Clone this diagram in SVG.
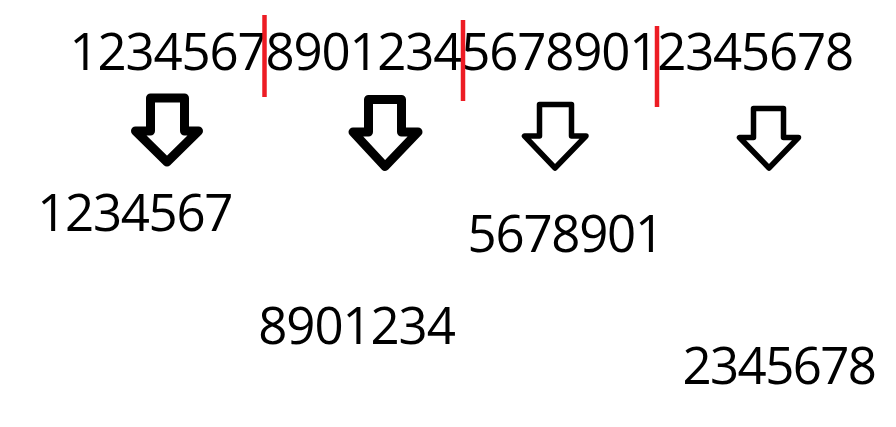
<svg xmlns="http://www.w3.org/2000/svg" width="896" height="427" viewBox="0 0 896 427">
<style>
.t{font-family:"Open Sans","Noto Sans","Liberation Sans",sans-serif;font-size:51px;fill:#000}
.cut{stroke:#ED1C24;stroke-width:4.5}
.arr{fill:#fff;stroke:#000;stroke-linejoin:round}
.thick{stroke-width:9}
.thin{stroke-width:5.5}
</style>
<rect width="896" height="427" fill="#fff"/>
<g id="source">
<text class="t" x="69.6" y="70" textLength="784.6" lengthAdjust="spacing">1234567890123456789012345678</text>
</g>
<g id="cuts">
<line class="cut" x1="264.5" y1="15" x2="264.5" y2="97"/>
<line class="cut" x1="463" y1="20" x2="463" y2="101"/>
<line class="cut" x1="657" y1="26" x2="657" y2="107"/>
</g>
<g id="connectors">
<polygon class="arr thick" points="150.5,98 184.5,98 184.5,131 198.5,131 167,162 135.5,131 150.5,131"/>
<polygon class="arr thick" points="368.5,99.5 401.5,99.5 401.5,132 418,132 385,166.5 353,132 368.5,132"/>
<polygon class="arr thin" points="539.5,104.5 571.5,104.5 571.5,136 586,136 555,168 524.5,136 539.5,136"/>
<polygon class="arr thin" points="753.5,108.5 783.5,108.5 783.5,137.5 798.5,137.5 769,168 739.5,137.5 753.5,137.5"/>
</g>
<g id="part1"><text class="t" x="37.3" y="231" textLength="196.1" lengthAdjust="spacing">1234567</text></g>
<g id="part2"><text class="t" x="258.3" y="344" textLength="197.5" lengthAdjust="spacing">8901234</text></g>
<g id="part3"><text class="t" x="467.6" y="252" textLength="196.6" lengthAdjust="spacing">5678901</text></g>
<g id="part4"><text class="t" x="682.5" y="384" textLength="194.5" lengthAdjust="spacing">2345678</text></g>
</svg>
